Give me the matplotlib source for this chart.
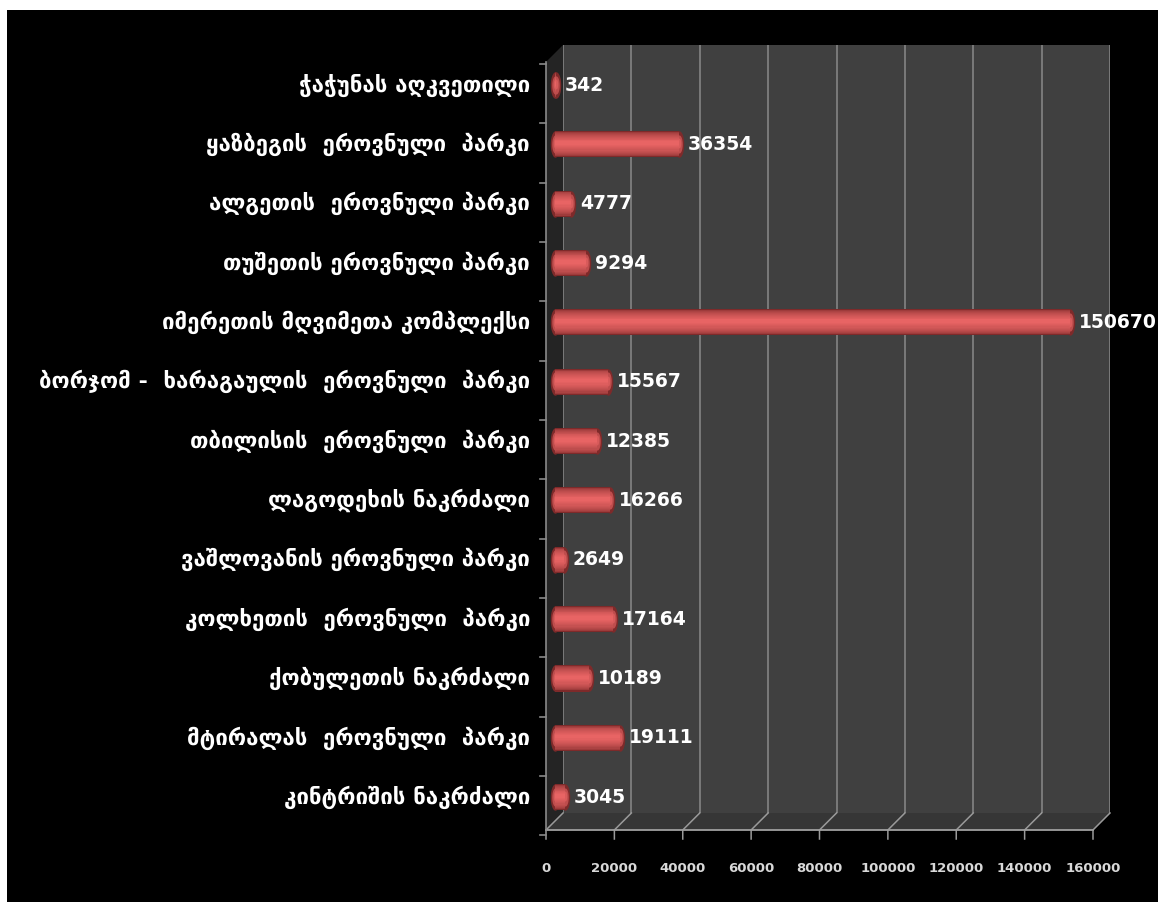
import numpy as np
import matplotlib
matplotlib.use("Agg")
import matplotlib.pyplot as plt
from matplotlib.transforms import offset_copy, blended_transform_factory, IdentityTransform
from matplotlib.patches import Polygon, Rectangle
from matplotlib.path import Path
from matplotlib.colors import to_rgb

# data, top to bottom as in the picture
parks = [
    "ჭაჭუნას აღკვეთილი",
    "ყაზბეგის  ეროვნული  პარკი",
    "ალგეთის  ეროვნული პარკი",
    "თუშეთის ეროვნული პარკი",
    "იმერეთის მღვიმეთა კომპლექსი",
    "ბორჯომ -  ხარაგაულის  ეროვნული  პარკი",
    "თბილისის  ეროვნული  პარკი",
    "ლაგოდეხის ნაკრძალი",
    "ვაშლოვანის ეროვნული პარკი",
    "კოლხეთის  ეროვნული  პარკი",
    "ქობულეთის ნაკრძალი",
    "მტირალას  ეროვნული  პარკი",
    "კინტრიშის ნაკრძალი",
]
visitors = [342, 36354, 4777, 9294, 150670, 15567, 12385, 16266, 2649, 17164, 10189, 19111, 3045]
xticks = [0, 20000, 40000, 60000, 80000, 100000, 120000, 140000, 160000]

W, H = 1158, 902
fig = plt.figure(figsize=(W / 100, H / 100), dpi=100)
fig.patch.set_facecolor("white")
fig.add_artist(Rectangle((7 / W, 0), 1, 1 - 10 / H, transform=fig.transFigure,
                         facecolor="black", edgecolor="none", zorder=-10))

# axes = back wall of the 3d box
ax = fig.add_axes([563 / W, 1 - 813 / H, (1110 - 563) / W, 768 / H])
ax.set_facecolor("#404040")
ax.set_xlim(0, 160000)
ax.set_ylim(12.41, -0.531)
ax.set_xticks(xticks)
ax.set_yticks([])
ax.tick_params(axis="x", length=0, labelbottom=False)
ax.grid(axis="x", color="#8a8a8a", lw=1.1)
for s in ax.spines.values():
    s.set_visible(False)

d = 17  # depth in pixels
mid = offset_copy(ax.transData, fig=fig, x=-d / 2, y=-d / 2, units="dots")
front = offset_copy(ax.transData, fig=fig, x=-d, y=-d, units="dots")

y0, y1 = ax.get_ylim()
# floor and side wall
b = ax.transData.transform([(0, y0), (160000, y0)])
f = front.transform([(0, y0), (160000, y0)])
fig.add_artist(Polygon([b[0], b[1], f[1], f[0]], closed=True, transform=IdentityTransform(),
                       facecolor="#363636", edgecolor="none", zorder=-5))
st = ax.transData.transform([(0, y1), (0, y0)])
sf = front.transform([(0, y1), (0, y0)])
fig.add_artist(Polygon([st[0], st[1], sf[1], sf[0]], closed=True, transform=IdentityTransform(),
                       facecolor="#242424", edgecolor="none", zorder=-5))
for xv in xticks:
    pb = ax.transData.transform((xv, y0))
    pf = front.transform((xv, y0))
    fig.add_artist(plt.Line2D([pb[0], pf[0], pf[0]], [pb[1], pf[1], pf[1] - 9],
                              transform=IdentityTransform(), color="#9a9a9a", lw=1.1))
fig.add_artist(plt.Line2D([f[0][0], f[1][0]], [f[0][1], f[1][1]],
                          transform=IdentityTransform(), color="#a0a0a0", lw=1.3))
# front-left vertical axis with category ticks
fig.add_artist(plt.Line2D([sf[0][0], sf[1][0]], [sf[0][1], sf[1][1]],
                          transform=IdentityTransform(), color="#8a8a8a", lw=1.2))
for k in range(len(parks) + 1):
    p = front.transform((0, k - 0.5))
    fig.add_artist(plt.Line2D([p[0] - 6, p[0]], [p[1], p[1]],
                              transform=IdentityTransform(), color="#8a8a8a", lw=1.2))

ypos = np.arange(len(parks))
vals = np.array(visitors)

# cylinder bars: stacked bands from dark rim to light centre
t = np.linspace(0, 2 * np.pi, 60)
ell = Path(np.column_stack([0.36 * np.cos(t), np.sin(t)]))
dark, light = np.array(to_rgb("#7e2a2a")), np.array(to_rgb("#e86464"))
n = 12
for i in range(n):
    fr = i / (n - 1)
    hgt = 0.44 * (1 - fr) + 0.06 * fr
    col = dark + (light - dark) * np.sqrt(fr)
    ax.barh(ypos - 0.02 * fr, vals, height=hgt, color=col, transform=mid,
            clip_on=False, zorder=3, linewidth=0)
    if i in (0, 4, 8):
        sz = (19 * hgt / 0.44) ** 2
        for xx in (np.zeros(len(vals)), vals):
            ax.scatter(xx, ypos - 0.02 * fr, marker=ell, s=sz, color=col,
                       transform=mid, clip_on=False, zorder=3, linewidths=0)

# value labels
vlab = offset_copy(ax.transData, fig=fig, x=-d / 2 + 9, y=-d / 2, units="dots")
for yy, v in zip(ypos, vals):
    ax.text(v, yy, str(v), transform=vlab, ha="left", va="center", color="white",
            fontsize=13.5, fontweight="bold", clip_on=False, zorder=5)

# category labels
lab_tr = blended_transform_factory(fig.transFigure, mid)
for yy, name in zip(ypos, parks):
    ax.text(530 / W, yy, name, transform=lab_tr, ha="right", va="center", color="white",
            fontsize=16, fontweight="bold", family=["DejaVu Sans"], clip_on=False)

# x tick labels under the front edge
tick_tr = blended_transform_factory(front, fig.transFigure)
for xv in xticks:
    ax.text(xv, 1 - 868 / H, str(xv), transform=tick_tr, ha="center", va="center",
            color="#d8d8d8", fontsize=9.5, fontweight="bold", clip_on=False)

fig.savefig("out.png", dpi=100, facecolor=fig.get_facecolor())
